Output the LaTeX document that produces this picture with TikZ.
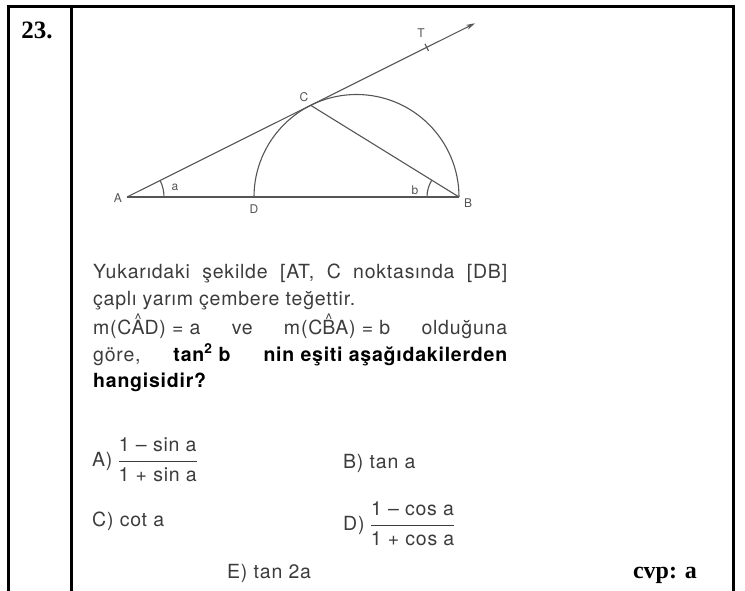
\documentclass[tikz,border=0pt]{standalone}
\usepackage{fontspec}
\setmainfont{TeX Gyre Heros}[LetterSpace=4]
\newfontfamily\qserif{Liberation Serif}
\usetikzlibrary{calc,arrows.meta}
\definecolor{scan}{HTML}{555555}
\definecolor{ink}{HTML}{3C3C3C}
\newcommand\anglehat[1]{\ooalign{#1\cr\hidewidth\raisebox{0.5em}{\fontsize{15}{15}\selectfont\textasciicircum}\hidewidth\cr}}

\begin{document}
\begin{tikzpicture}[x=1pt,y=1pt,
	frame/.style={line width=3pt},
	fig/.style={scan,line width=1.1pt},
	ptlbl/.style={font=\fontsize{12}{12}\selectfont,text=scan,inner sep=0pt},
	qline/.style={font=\fontsize{19.5}{27}\selectfont,text=ink,anchor=base west,inner sep=0pt},
	qnum/.style={font=\qserif\bfseries\fontsize{25}{25}\selectfont,inner sep=0pt}]
	
	\useasboundingbox (0,0) rectangle (745,-591);
	
	% table
	\draw[frame] (8,-591) -- (8,-7) -- (733,-7) -- (733,-591);
	\draw[frame] (71,-7) -- (71,-591);
	\node[qnum] (no) at (37,-30) {23.};
	
	% figure
	\coordinate (A) at (127,-197);
	\coordinate (B) at (459,-197);
	\coordinate (D) at (254,-197);
	\coordinate (C) at ($(A)+(26.53:205.3)$);
	\coordinate (T) at ($(A)+(26.53:335)$);
	\coordinate (Tend) at ($(A)+(26.53:389)$);
	\draw[fig] (A) -- (B);
	\draw[fig,-{Stealth[length=9pt,width=5pt]}] (A) -- (Tend);
	\draw[fig] (C) -- (B);
	\draw[fig] (B) arc[start angle=0,end angle=180,radius=102.5];
	\draw[fig] ($(T)+(116.53:4)$) -- ($(T)+(-63.47:4)$);
	\draw[fig] ($(A)+(37,0)$) arc[start angle=0,end angle=26.53,radius=37];
	\draw[fig] ($(B)+(-32,0)$) arc[start angle=180,end angle=148.27,radius=32];
	
	\node[ptlbl] (lA) at (118,-198) {A};
	\node[ptlbl] (lB) at (468,-203) {B};
	\node[ptlbl] (lC) at (304,-97) {C};
	\node[ptlbl] (lD) at (254,-209) {D};
	\node[ptlbl] (lT) at (421,-33) {T};
	\node[ptlbl] (la) at (175,-187) {a};
	\node[ptlbl] (lb) at (415,-190) {b};
	
	% question
	\node[qline] (q1) at (93,-278) {\makebox[414pt][s]{Yukarıdaki şekilde [AT, C noktasında [DB]}};
	\node[qline] (q2) at (93,-305) {çaplı yarım çembere teğettir.};
	\node[qline] (q3) at (93,-334) {\makebox[414pt][s]{m(C\anglehat{A}D)~=~a\hfill ve\hfill m(C\anglehat{B}A)~=~b\hfill olduğuna}};
	\node[qline] (q4) at (93,-361) {\makebox[414pt][s]{göre,\hfill\textcolor{black}{\bfseries tan\textsuperscript{2}~b\hfill nin eşiti aşağıdakilerden}}};
	\node[qline] (q5) at (93,-387) {\textcolor{black}{\bfseries hangisidir?}};
	
	% choices
	\node[qline,anchor=west] (oA) at (92,-461) {A)~\renewcommand\arraystretch{1.1}\begin{tabular}{@{}c@{}}1 -- sin a\\\hline 1 + sin a\end{tabular}};
	\node[qline,anchor=west] (oB) at (343,-463) {B) tan a};
	\node[qline,anchor=west] (oC) at (92,-521) {C) cot a};
	\node[qline,anchor=west] (oD) at (343,-525) {D)~\renewcommand\arraystretch{1.1}\begin{tabular}{@{}c@{}}1 -- cos a\\\hline 1 + cos a\end{tabular}};
	\node[qline,anchor=west] (oE) at (227,-573) {E) tan 2a};
	\node[qnum,font=\qserif\bfseries\fontsize{24}{24}\selectfont] (ans) at (665,-575) {cvp: a};
	
\end{tikzpicture}
\end{document}
